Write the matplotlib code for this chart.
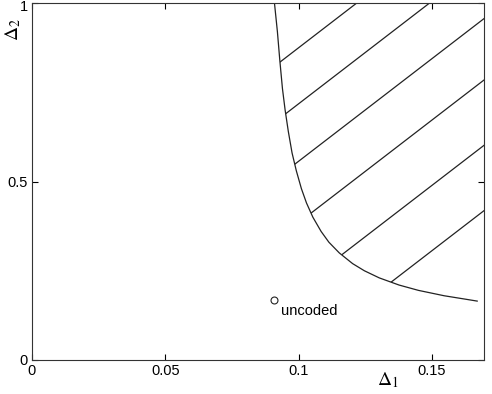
import numpy as np
import matplotlib.pyplot as plt
from matplotlib.patches import Polygon
from matplotlib.transforms import ScaledTranslation

plt.rcParams['mathtext.fontset'] = 'stix'
plt.rcParams['font.family'] = ['Liberation Sans', 'DejaVu Sans']

# boundary curve
delta1 = [0.0909, 0.0920, 0.0929, 0.0939, 0.0949, 0.0961, 0.0975, 0.0991,
          0.1010, 0.1029, 0.1053, 0.1084, 0.1113, 0.1152, 0.1202, 0.1246,
          0.1302, 0.1376, 0.1449, 0.1545, 0.1628, 0.1669]
delta2 = [1.000, 0.920, 0.840, 0.760, 0.700, 0.640, 0.580, 0.530,
          0.480, 0.440, 0.400, 0.360, 0.330, 0.300, 0.270, 0.250,
          0.230, 0.210, 0.195, 0.180, 0.170, 0.165]

# hatch lines: delta2 = slope * delta1 + offset
hatch_slope = 5.75
hatch_offsets = [0.30, 0.143, -0.018, -0.19, -0.373, -0.556]

uncoded = (0.0907, 0.168)

xmax = 0.1695

fig = plt.figure(figsize=(4.92, 3.94), dpi=100)
ax = fig.add_axes([0.065, 0.0863, 0.919, 0.906])

ax.plot(delta1, delta2, color='#222222', lw=0.9)

# region right of the curve, used to clip the hatching
region = Polygon(list(zip(delta1, delta2)) + [(xmax, delta2[-1]), (xmax, 1.0)],
                 closed=True, facecolor='none', edgecolor='none',
                 transform=ax.transData)
ax.add_patch(region)

xs = np.array([0.0, xmax])
for c in hatch_offsets:
    ln, = ax.plot(xs, hatch_slope * xs + c, color='#222222', lw=0.9)
    ln.set_clip_path(region)

ax.plot(*uncoded, 'o', mfc='white', mec='#222222', ms=5, mew=0.8)
ax.text(uncoded[0] + 0.0025, uncoded[1] - 0.03, 'uncoded',
        fontsize=10.5, va='center', ha='left')

ax.set_xlim(0, xmax)
ax.set_ylim(0, 1)
ax.set_xticks([0, 0.05, 0.1, 0.15])
ax.set_xticklabels(['0', '0.05', '0.1', '0.15'])
ax.set_yticks([0, 0.5, 1])
ax.set_yticklabels(['0', '0.5', '1'])
ax.tick_params(direction='in', top=True, right=True, labelsize=10.5,
               length=4, width=0.8, pad=3)
# keep the top "1" inside the figure
top_lbl = ax.get_yticklabels()[-1]
top_lbl.set_transform(top_lbl.get_transform() +
                      ScaledTranslation(0, -2 / 72, fig.dpi_scale_trans))
for s in ax.spines.values():
    s.set_linewidth(0.8)
    s.set_color('#333333')

fig.text(388 / 492, 1 - 380 / 394, r'$\Delta_1$', fontsize=14,
         ha='center', va='center')
fig.text(13 / 492, 1 - 30 / 394, r'$\Delta_2$', fontsize=14,
         ha='center', va='center', rotation=90)

fig.savefig('out.png', dpi=100)
